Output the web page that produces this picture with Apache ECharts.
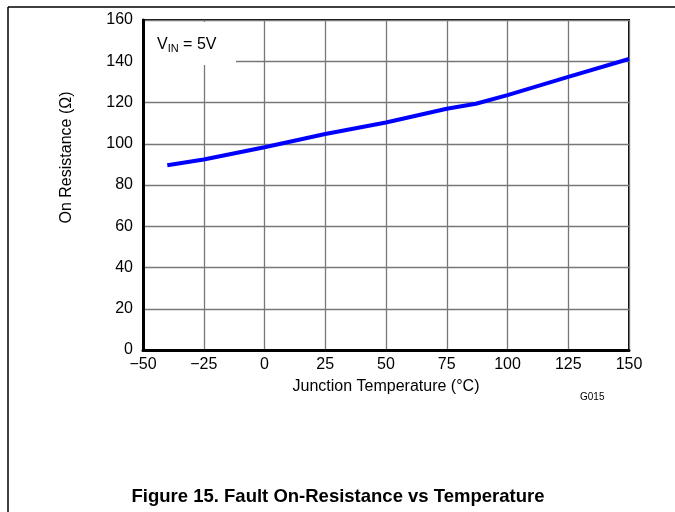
<!DOCTYPE html>
<html>
<head>
<meta charset="utf-8">
<script src="https://cdn.jsdelivr.net/npm/echarts@6/dist/echarts.min.js"></script>
<style>
  html, body { margin: 0; padding: 0; background: #fff; }
  #chart { width: 675px; height: 512px; }
</style>
</head>
<body>
<div id="chart"></div>
<script>
// temperature (°C) and on resistance (Ω)
const temperature = [-40, -25, 0, 25, 50, 75, 87, 100, 125, 150];
const resistance = [89.6, 92.4, 98.3, 104.7, 110.3, 117.0, 119.4, 123.6, 132.4, 141.1];
const xTicks = [-50, -25, 0, 25, 50, 75, 100, 125, 150];
const yTicks = [0, 20, 40, 60, 80, 100, 120, 140, 160];

const font = 'Liberation Sans, Arial, sans-serif';
const chart = echarts.init(document.getElementById('chart'));

const option = {
    animation: false,
    grid: { left: 143, right: 46, top: 20, bottom: 162, show: true, borderColor: '#000', borderWidth: 2 },
    xAxis: {
        type: 'value', min: -50, max: 150, interval: 25,
        name: 'Junction Temperature (°C)', nameLocation: 'middle', nameGap: 29,
        nameTextStyle: { fontFamily: font, fontSize: 16, color: '#000' },
        axisLine: { show: true, onZero: false, lineStyle: { color: '#000', width: 3 } },
        axisTick: { show: false },
        axisLabel: {
            fontFamily: font, fontSize: 16, color: '#000', margin: 7,
            formatter: v => xTicks.includes(v) ? String(v).replace('-', '\u2212') : ''
        },
        splitLine: { show: true, lineStyle: { color: '#777', width: 1.3 } }
    },
    yAxis: {
        type: 'value', min: 0, max: 160, interval: 20,
        name: 'On Resistance (Ω)', nameLocation: 'middle', nameGap: 68,
        nameTextStyle: { fontFamily: font, fontSize: 16, color: '#000', padding: [0, 0, 0, 55] },
        axisLine: { show: true, onZero: false, lineStyle: { color: '#000', width: 3 } },
        axisTick: { show: false },
        axisLabel: {
            fontFamily: font, fontSize: 16, color: '#000', margin: 10,
            formatter: v => yTicks.includes(v) ? String(v) : ''
        },
        splitLine: { show: true, lineStyle: { color: '#777', width: 1.3 } }
    },
    series: [{
        type: 'line',
        data: temperature.map((t, i) => [t, resistance[i]]),
        showSymbol: false,
        lineStyle: { color: '#0000ff', width: 4 },
        z: 3
    }],
    graphic: [
        { type: 'line', shape: { x1: 8, y1: 7, x2: 675, y2: 7 }, style: { stroke: '#000', lineWidth: 1.5 } },
        { type: 'line', shape: { x1: 8, y1: 7, x2: 8, y2: 512 }, style: { stroke: '#000', lineWidth: 1.5 } },
        { type: 'rect', shape: { x: 145, y: 22, width: 91, height: 43 }, style: { fill: '#fff' }, z: 10 },
        {
            type: 'text', x: 157, y: 35, z: 11,
            style: {
                text: '{v|V}{s|IN}{v| = 5V}',
                rich: {
                    v: { fontFamily: font, fontSize: 16, fill: '#000' },
                    s: { fontFamily: font, fontSize: 11, fill: '#000', padding: [8, 0, 0, 0] }
                }
            }
        },
        { type: 'text', x: 580, y: 392, style: { text: 'G015', fontFamily: font, fontSize: 10, fill: '#000' } },
        {
            type: 'text', x: 338, y: 497,
            style: {
                text: 'Figure 15. Fault On-Resistance vs Temperature',
                fontFamily: font, fontSize: 18.5, fontWeight: 'bold', fill: '#000',
                textAlign: 'center', textVerticalAlign: 'middle'
            }
        }
    ]
};
chart.setOption(option);
</script>
</body>
</html>
